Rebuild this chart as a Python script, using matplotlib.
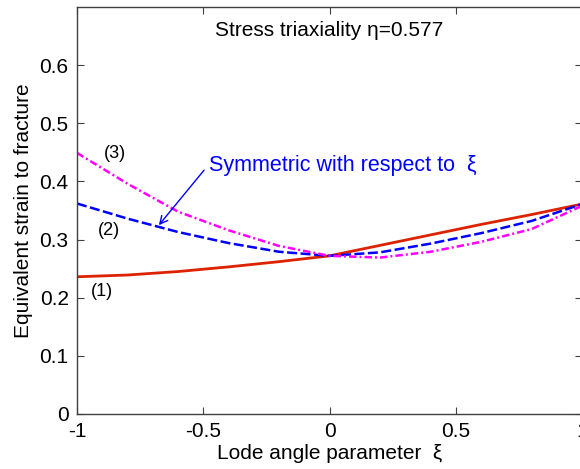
import matplotlib
matplotlib.use("Agg")
import matplotlib.pyplot as plt

plt.rcParams["font.family"] = ["Liberation Sans", "DejaVu Sans"]

# Lode angle parameter and the three fracture-strain curves
xi = [-1.0, -0.8, -0.6, -0.4, -0.2, 0.0, 0.2, 0.4, 0.6, 0.8, 1.0]
curve1 = [0.236, 0.239, 0.245, 0.253, 0.262, 0.272, 0.290, 0.308, 0.326, 0.343, 0.361]
curve2 = [0.362, 0.336, 0.313, 0.294, 0.279, 0.272, 0.278, 0.293, 0.311, 0.332, 0.361]
curve3 = [0.449, 0.396, 0.348, 0.316, 0.289, 0.272, 0.269, 0.279, 0.296, 0.318, 0.358]

xticks = [-1, -0.5, 0, 0.5, 1]
xticklabels = ["-1", "-0.5", "0", "0.5", "1"]
yticks = [0, 0.1, 0.2, 0.3, 0.4, 0.5, 0.6]
yticklabels = ["0", "0.1", "0.2", "0.3", "0.4", "0.5", "0.6"]

fig = plt.figure(figsize=(5.8, 4.69), dpi=100)
ax = fig.add_axes([0.1328, 0.1173, 0.8707, 0.8678])

ax.plot(xi, curve1, color="#dd2200", lw=2.0, solid_capstyle="butt")
ax.plot(xi, curve2, color="#0000ff", lw=1.8, dashes=(4, 1.4))
ax.plot(xi, curve3, color="#ff00ff", lw=1.8, dashes=(3, 1.2, 0.8, 1.2))

ax.set_xlim(-1, 1)
ax.set_ylim(0, 0.7)
ax.set_xticks(xticks)
ax.set_xticklabels(xticklabels)
ax.set_yticks(yticks)
ax.set_yticklabels(yticklabels)
ax.tick_params(direction="in", length=5, width=0.8, color="#404040",
               labelsize=15, top=True, right=True, pad=6)
for s in ax.spines.values():
    s.set_color("#404040")
    s.set_linewidth(1.0)

ax.set_xlabel("Lode angle parameter  ξ", fontsize=15)
ax.set_ylabel("Equivalent strain to fracture", fontsize=15)
ax.xaxis.set_label_coords(0.5, -0.074)
ax.yaxis.set_label_coords(-0.087, 0.5)

ax.text(0.0, 0.66, "Stress triaxiality η=0.577", fontsize=15,
        ha="center", va="center")
ax.text(-0.476, 0.428, "Symmetric with respect to  ξ", fontsize=15.5,
        color="#0000ff", ha="left", va="center")
ax.annotate("", xy=(-0.683, 0.321), xytext=(-0.49, 0.423),
            arrowprops=dict(arrowstyle="->", color="#0000ff", lw=1.0,
                            mutation_scale=14))

ax.text(-0.85, 0.448, "(3)", fontsize=13, ha="center", va="center")
ax.text(-0.873, 0.316, "(2)", fontsize=13, ha="center", va="center")
ax.text(-0.90, 0.21, "(1)", fontsize=13, ha="center", va="center")

fig.savefig("out.png", dpi=100)
